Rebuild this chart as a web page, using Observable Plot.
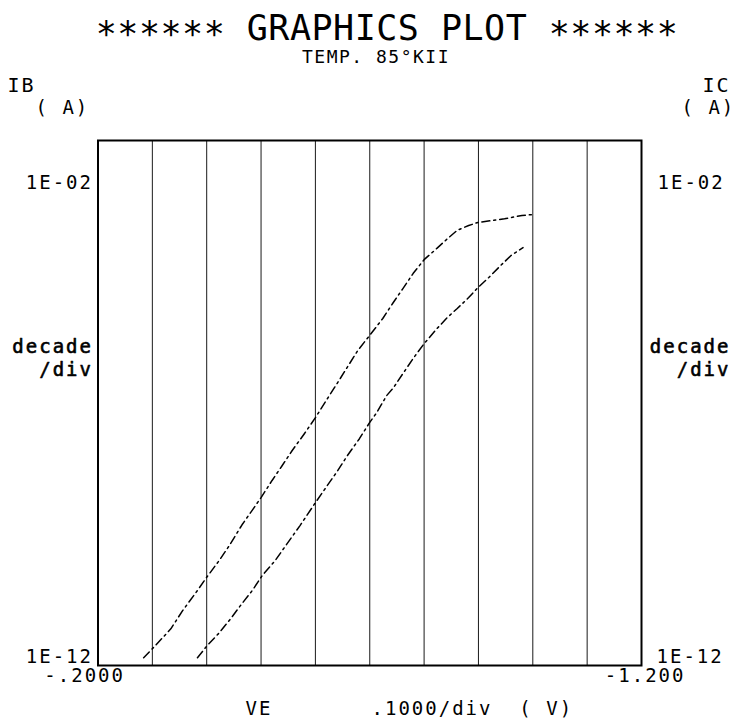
<!DOCTYPE html>
<html>
<head>
<meta charset="utf-8">
<script src="https://cdn.jsdelivr.net/npm/d3@7"></script>
<script src="https://cdn.jsdelivr.net/npm/@observablehq/plot@0.6"></script>
<style>
  html, body { margin: 0; padding: 0; background: #fff; }
  #page { position: relative; width: 734px; height: 721px; overflow: hidden; }
  #chart { position: absolute; left: 0; top: 0; }
  #chart text { white-space: pre; letter-spacing: 2px; }
  .hdr { position: absolute; font-family: "DejaVu Sans Mono", monospace; color: #000;
         white-space: pre; line-height: 0.75; transform: translateX(-50%); }
  .hdr .star { position: relative; top: 6px; }
  #title { left: 387px; top: 15px; font-size: 35px; letter-spacing: 0.5px; }
  #subtitle { left: 376px; top: 50px; font-size: 18px; letter-spacing: 1.5px; }
</style>
</head>
<body>
<div id="page">
  <div id="chart"></div>
  <div id="title" class="hdr"><span class="star">******</span> GRAPHICS PLOT <span class="star">******</span></div>
  <div id="subtitle" class="hdr">TEMP. 85°KII</div>
</div>
<script>
// Emitter sweep VE (V) and measured currents (A)
const veIC = [-0.284, -0.302, -0.319, -0.334, -0.356, -0.383, -0.400, -0.423, -0.442, -0.465,
              -0.484, -0.500, -0.520, -0.539, -0.557, -0.580, -0.600, -0.620, -0.641, -0.678,
              -0.700, -0.724, -0.743, -0.761, -0.780, -0.800, -0.824, -0.843, -0.861, -0.882,
              -0.899, -0.928, -0.948, -0.980, -1.000];
const icA = [1.41e-12, 2.19e-12, 3.39e-12, 5.0e-12, 1.12e-11, 2.69e-11, 4.79e-11, 1.0e-10, 1.95e-10, 4.79e-10,
             9.12e-10, 1.58e-9, 3.31e-9, 6.46e-9, 1.23e-8, 2.63e-8, 5.25e-8, 1.12e-7, 2.45e-7, 1.0e-6,
             1.95e-6, 4.07e-6, 8.13e-6, 1.51e-5, 2.95e-5, 5.37e-5, 8.91e-5, 1.35e-4, 1.95e-4, 2.40e-4,
             2.75e-4, 3.02e-4, 3.24e-4, 3.72e-4, 3.89e-4];

const veIB = [-0.383, -0.401, -0.422, -0.444, -0.462, -0.484, -0.502, -0.526, -0.572, -0.600,
              -0.622, -0.641, -0.659, -0.681, -0.700, -0.713, -0.731, -0.743, -0.761, -0.780,
              -0.800, -0.824, -0.843, -0.861, -0.882, -0.899, -0.919, -0.941, -0.960, -0.982];
const ibA = [1.41e-12, 2.40e-12, 4.07e-12, 7.76e-12, 1.38e-11, 2.69e-11, 5.13e-11, 1.0e-10, 4.68e-10, 1.26e-9,
             2.69e-9, 5.13e-9, 1.0e-8, 2.09e-8, 4.27e-8, 6.61e-8, 1.38e-7, 1.91e-7, 3.63e-7, 7.08e-7,
             1.35e-6, 2.63e-6, 4.27e-6, 6.31e-6, 1.02e-5, 1.58e-5, 2.45e-5, 4.17e-5, 6.46e-5, 9.12e-5];

// Axis ranges, division lines and tick labels
const veRange = [-0.2, -1.2];
const currentRange = [1e-12, 1e-2];
const veDivisions = [-0.3, -0.4, -0.5, -0.6, -0.7, -0.8, -0.9, -1.0, -1.1];
const veEndLabels = ["-.2000", "-1.200"];
const currentEndLabels = ["1E-02", "1E-12"];
const unitLabels = { leftName: "IB", rightName: "IC", currentUnit: "( A)", veName: "VE", veScale: ".1000/div  ( V)" };
const decadeLabel = "decade\n/div";

const icRows = veIC.map((v, i) => ({ ve: v, amps: icA[i] }));
const ibRows = veIB.map((v, i) => ({ ve: v, amps: ibA[i] }));
const topRow = [{ v: currentRange[1], t: currentEndLabels[0] }];
const bottomRow = [{ v: currentRange[0], t: currentEndLabels[1] }];

const mono = "DejaVu Sans Mono";
const num = { fontFamily: mono, fontSize: 19, lineAnchor: "bottom", fill: "#000" };
const per = { fontFamily: mono, fontSize: 19, lineHeight: 1.2, lineAnchor: "bottom", fill: "#000",
              stroke: "#000", strokeWidth: 0.6 };
const dash = "8,4,2,4";

const chart = Plot.plot({
  width: 734,
  height: 721,
  marginLeft: 97.5,
  marginRight: 93,
  marginTop: 140,
  marginBottom: 56,
  style: { fontFamily: mono, background: "#fff", color: "#000" },
  x: { type: "linear", domain: veRange, axis: null },
  y: { type: "log", domain: currentRange, axis: null },
  marks: [
    Plot.ruleX(veDivisions, { stroke: "#1a1a1a", strokeWidth: 1 }),
    Plot.line(icRows, { x: "ve", y: "amps", stroke: "#000", strokeWidth: 1.5, strokeDasharray: dash }),
    Plot.line(ibRows, { x: "ve", y: "amps", stroke: "#000", strokeWidth: 1.5, strokeDasharray: dash }),
    Plot.frame({ stroke: "#000", strokeWidth: 2 }),

    // current end labels, both sides
    Plot.text(topRow, { ...num, y: "v", text: "t", frameAnchor: "left", textAnchor: "end", dx: -5, dy: 48 }),
    Plot.text(bottomRow, { ...num, y: "v", text: "t", frameAnchor: "left", textAnchor: "end", dx: -5, dy: -3 }),
    Plot.text(topRow, { ...num, y: "v", text: "t", frameAnchor: "right", textAnchor: "start", dx: 16, dy: 48 }),
    Plot.text(bottomRow, { ...num, y: "v", text: "t", frameAnchor: "right", textAnchor: "start", dx: 15, dy: -3 }),

    // decade/div legends
    Plot.text([decadeLabel], { ...per, frameAnchor: "left", textAnchor: "end", dx: -5, dy: -27 }),
    Plot.text([decadeLabel], { ...per, frameAnchor: "right", textAnchor: "end", dx: 89, dy: -27 }),

    // VE end labels
    Plot.text([{ v: veRange[0], t: veEndLabels[0] }], { ...num, x: "v", text: "t", frameAnchor: "bottom", textAnchor: "end", dx: 27, dy: 16 }),
    Plot.text([{ v: veRange[1], t: veEndLabels[1] }], { ...num, x: "v", text: "t", frameAnchor: "bottom", textAnchor: "end", dx: 44, dy: 16 }),

    // axis names and units
    Plot.text([unitLabels.veName], { ...num, frameAnchor: "bottom-left", textAnchor: "start", dx: 147.5, dy: 49 }),
    Plot.text([unitLabels.veScale], { ...num, frameAnchor: "bottom-left", textAnchor: "start", dx: 273.5, dy: 49 }),
    Plot.text([unitLabels.leftName], { ...num, fontSize: 20, frameAnchor: "top-left", textAnchor: "start", dx: -90.5, dy: -49 }),
    Plot.text([unitLabels.currentUnit], { ...num, frameAnchor: "top-left", textAnchor: "start", dx: -62.5, dy: -27 }),
    Plot.text([unitLabels.rightName], { ...num, fontSize: 20, frameAnchor: "top-right", textAnchor: "start", dx: 61, dy: -49 }),
    Plot.text([unitLabels.currentUnit], { ...num, frameAnchor: "top-right", textAnchor: "start", dx: 40, dy: -27 })
  ]
});

document.getElementById("chart").appendChild(chart);
</script>
</body>
</html>
